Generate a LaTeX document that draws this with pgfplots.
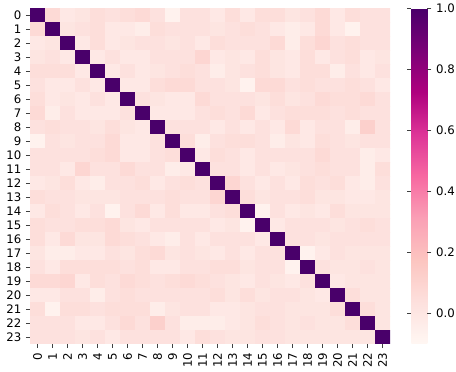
\documentclass[border=0pt]{standalone}
\usepackage{pgfplots}
\pgfplotsset{compat=1.18}
\usepackage{fontspec}
\setmainfont{DejaVu Sans}
\begin{document}
\begin{tikzpicture}
\begin{axis}[
  scale only axis, width=270pt, height=252pt,
  xmin=-0.5, xmax=23.5, ymin=-0.5, ymax=23.5,
  y dir=reverse,
  enlargelimits=false,
  axis line style={draw=none},
  tick pos=left, tick align=outside, major tick length=3pt,
  tick style={color=black!75, line width=0.6pt},
  xtick={0,1,...,23}, ytick={0,1,...,23},
  xticklabels={0,1,2,3,4,5,6,7,8,9,10,11,12,13,14,15,16,17,18,19,20,21,22,23},
  yticklabels={0,1,2,3,4,5,6,7,8,9,10,11,12,13,14,15,16,17,18,19,20,21,22,23},
  xticklabel style={rotate=90, anchor=east},
  font=\fontsize{8.8}{10.5}\selectfont,
  colormap={rdpu}{rgb255=(255,247,243) rgb255=(253,224,221) rgb255=(252,197,192) rgb255=(250,159,181) rgb255=(247,104,161) rgb255=(221,52,151) rgb255=(174,1,126) rgb255=(122,1,119) rgb255=(73,0,106)},
  point meta min=-0.1, point meta max=1,
  colorbar,
  colorbar style={
    width=12pt,
    at={(parent axis.north east)}, anchor=north west, xshift=7.5pt,
    y dir=normal,
    ytick={0,0.2,0.4,0.6,0.8,1},
    yticklabels={0.0,0.2,0.4,0.6,0.8,1.0},
    axis line style={draw=none},
    tick align=outside, major tick length=3pt,
    tick style={color=black!75, line width=0.6pt},
    font=\fontsize{8.8}{10.5}\selectfont,
  },
]
\addplot[matrix plot*, mesh/cols=24, point meta=explicit]
  table[row sep=\\, x expr={mod(\coordindex,24)}, y expr={floor((\coordindex+0.5)/24)}, meta index=0] {
1\\ 0.07\\ -0.01\\ 0.01\\ 0.05\\ 0.03\\ 0.05\\ 0.07\\ 0.03\\ -0.07\\ 0.03\\ 0.03\\ -0.01\\ 0.05\\ -0.01\\ 0.05\\ 0.05\\ 0.01\\ 0.03\\ 0.07\\ -0.01\\ 0.05\\ 0.03\\ 0.03\\
0.07\\ 1\\ 0.01\\ 0.03\\ 0.05\\ -0.01\\ -0.01\\ -0.04\\ 0.05\\ 0.03\\ 0.03\\ 0.03\\ 0.01\\ 0.03\\ 0.05\\ 0.03\\ -0.01\\ -0.04\\ -0.01\\ 0.07\\ -0.01\\ -0.07\\ 0.03\\ 0.03\\
-0.01\\ 0.01\\ 1\\ -0.01\\ 0.05\\ -0.01\\ 0.01\\ 0.03\\ 0.03\\ 0.01\\ 0.03\\ -0.01\\ 0.05\\ 0.03\\ 0.03\\ 0.03\\ 0.07\\ -0.04\\ 0.05\\ 0.09\\ 0.03\\ 0.05\\ 0.03\\ 0.03\\
0.01\\ 0.03\\ -0.01\\ 1\\ -0.01\\ 0.03\\ -0.01\\ -0.01\\ 0.03\\ 0.03\\ 0.03\\ 0.09\\ -0.01\\ 0.01\\ -0.01\\ 0.05\\ 0.01\\ -0.01\\ 0.05\\ -0.01\\ 0.03\\ 0.05\\ -0.01\\ 0.01\\
0.05\\ 0.05\\ 0.05\\ -0.01\\ 1\\ -0.01\\ 0.03\\ -0.01\\ 0.01\\ 0.03\\ 0.05\\ 0.03\\ -0.04\\ 0.01\\ 0.03\\ 0.05\\ 0.01\\ -0.01\\ 0.05\\ 0.05\\ -0.04\\ 0.03\\ -0.01\\ 0.03\\
0.03\\ -0.01\\ -0.01\\ 0.03\\ -0.01\\ 1\\ -0.01\\ -0.01\\ 0.05\\ 0.07\\ 0.07\\ 0.03\\ 0.03\\ 0.01\\ -0.07\\ 0.07\\ 0.07\\ 0.03\\ 0.05\\ 0.03\\ 0.03\\ 0.05\\ 0.03\\ -0.01\\
0.05\\ -0.01\\ 0.01\\ -0.01\\ 0.03\\ -0.01\\ 1\\ 0.03\\ 0.01\\ -0.01\\ -0.01\\ 0.07\\ 0.03\\ 0.03\\ 0.03\\ 0.01\\ 0.05\\ 0.01\\ 0.03\\ 0.07\\ 0.05\\ 0.05\\ 0.07\\ 0.03\\
0.07\\ -0.04\\ 0.03\\ -0.01\\ -0.01\\ -0.01\\ 0.03\\ 1\\ -0.01\\ -0.01\\ -0.01\\ 0.03\\ 0.05\\ 0.03\\ 0.07\\ -0.01\\ 0.03\\ 0.05\\ 0.05\\ 0.05\\ 0.03\\ 0.05\\ 0.03\\ 0.03\\
0.03\\ 0.05\\ 0.03\\ 0.03\\ 0.01\\ 0.05\\ 0.01\\ -0.01\\ 1\\ 0.03\\ 0.03\\ 0.03\\ -0.01\\ 0.03\\ -0.01\\ 0.03\\ -0.01\\ 0.07\\ -0.01\\ 0.03\\ 0.03\\ -0.04\\ 0.12\\ 0.03\\
-0.07\\ 0.03\\ 0.01\\ 0.03\\ 0.03\\ 0.07\\ -0.01\\ -0.01\\ 0.03\\ 1\\ 0.05\\ -0.04\\ 0.03\\ 0.05\\ 0.05\\ 0.03\\ -0.04\\ 0.01\\ -0.01\\ 0.05\\ 0.03\\ 0.01\\ 0.03\\ 0.03\\
0.03\\ 0.03\\ 0.03\\ 0.03\\ 0.05\\ 0.07\\ -0.01\\ -0.01\\ 0.03\\ 0.05\\ 1\\ -0.01\\ 0.05\\ 0.03\\ -0.01\\ 0.03\\ 0.03\\ 0.03\\ 0.03\\ 0.07\\ 0.03\\ 0.03\\ -0.04\\ -0.01\\
0.03\\ 0.03\\ -0.01\\ 0.09\\ 0.03\\ 0.03\\ 0.07\\ 0.03\\ 0.03\\ -0.04\\ -0.01\\ 1\\ 0.03\\ 0.03\\ -0.01\\ 0.03\\ -0.01\\ 0.01\\ 0.03\\ 0.05\\ 0.03\\ 0.03\\ -0.04\\ 0.05\\
-0.01\\ 0.01\\ 0.05\\ -0.01\\ -0.04\\ 0.03\\ 0.03\\ 0.05\\ -0.01\\ 0.03\\ 0.05\\ 0.03\\ 1\\ 0.09\\ 0.03\\ -0.01\\ 0.03\\ -0.01\\ 0.05\\ 0.03\\ 0.05\\ -0.01\\ -0.04\\ 0.03\\
0.05\\ 0.03\\ 0.03\\ 0.01\\ 0.01\\ 0.01\\ 0.03\\ 0.03\\ 0.03\\ 0.05\\ 0.03\\ 0.03\\ 0.09\\ 1\\ 0.05\\ 0.01\\ 0.03\\ 0.03\\ 0.05\\ 0.01\\ 0.01\\ -0.01\\ -0.01\\ 0.01\\
-0.01\\ 0.05\\ 0.03\\ -0.01\\ 0.03\\ -0.07\\ 0.03\\ 0.07\\ -0.01\\ 0.05\\ -0.01\\ -0.01\\ 0.03\\ 0.05\\ 1\\ -0.07\\ 0.03\\ -0.01\\ 0.01\\ -0.01\\ 0.05\\ 0.01\\ 0.01\\ 0.01\\
0.05\\ 0.03\\ 0.03\\ 0.05\\ 0.05\\ 0.07\\ 0.01\\ -0.01\\ 0.03\\ 0.03\\ 0.03\\ 0.03\\ -0.01\\ 0.01\\ -0.07\\ 1\\ -0.01\\ 0.03\\ 0.03\\ 0.03\\ 0.01\\ 0.03\\ 0.05\\ 0.03\\
0.05\\ -0.01\\ 0.07\\ 0.01\\ 0.01\\ 0.07\\ 0.05\\ 0.03\\ -0.01\\ -0.04\\ 0.03\\ -0.01\\ 0.03\\ 0.03\\ 0.03\\ -0.01\\ 1\\ 0.03\\ 0.03\\ 0.01\\ 0.03\\ 0.03\\ 0.03\\ 0.03\\
0.01\\ -0.04\\ -0.04\\ -0.01\\ -0.01\\ 0.03\\ 0.01\\ 0.05\\ 0.07\\ 0.01\\ 0.03\\ 0.01\\ -0.01\\ 0.03\\ -0.01\\ 0.03\\ 0.03\\ 1\\ -0.07\\ -0.01\\ 0.03\\ 0.01\\ 0.01\\ 0.01\\
0.03\\ -0.01\\ 0.05\\ 0.05\\ 0.05\\ 0.05\\ 0.03\\ 0.05\\ -0.01\\ -0.01\\ 0.03\\ 0.03\\ 0.05\\ 0.05\\ 0.01\\ 0.03\\ 0.03\\ -0.07\\ 1\\ 0.03\\ 0.01\\ 0.01\\ 0.03\\ 0.01\\
0.07\\ 0.07\\ 0.09\\ -0.01\\ 0.05\\ 0.03\\ 0.07\\ 0.05\\ 0.03\\ 0.05\\ 0.07\\ 0.05\\ 0.03\\ 0.01\\ -0.01\\ 0.03\\ 0.01\\ -0.01\\ 0.03\\ 1\\ -0.01\\ 0.01\\ 0.01\\ 0.01\\
-0.01\\ -0.01\\ 0.03\\ 0.03\\ -0.04\\ 0.03\\ 0.05\\ 0.03\\ 0.03\\ 0.03\\ 0.03\\ 0.03\\ 0.05\\ 0.01\\ 0.05\\ 0.01\\ 0.03\\ 0.03\\ 0.01\\ -0.01\\ 1\\ 0.05\\ 0.01\\ 0.01\\
0.05\\ -0.07\\ 0.05\\ 0.05\\ 0.03\\ 0.05\\ 0.05\\ 0.05\\ -0.04\\ 0.01\\ 0.03\\ 0.03\\ -0.01\\ -0.01\\ 0.01\\ 0.03\\ 0.03\\ 0.01\\ 0.01\\ 0.01\\ 0.05\\ 1\\ 0.05\\ 0.01\\
0.03\\ 0.03\\ 0.03\\ -0.01\\ -0.01\\ 0.03\\ 0.07\\ 0.03\\ 0.12\\ 0.03\\ -0.04\\ -0.04\\ -0.04\\ -0.01\\ 0.01\\ 0.05\\ 0.03\\ 0.01\\ 0.03\\ 0.01\\ 0.01\\ 0.05\\ 1\\ 0.01\\
0.03\\ 0.03\\ 0.03\\ 0.01\\ 0.03\\ -0.01\\ 0.03\\ 0.03\\ 0.03\\ 0.03\\ -0.01\\ 0.05\\ 0.03\\ 0.01\\ 0.01\\ 0.03\\ 0.03\\ 0.01\\ 0.01\\ 0.01\\ 0.01\\ 0.01\\ 0.01\\ 1\\
};
\end{axis}
\pgfresetboundingbox
\path ([xshift=-22.5pt, yshift=6pt]current axis.north west) rectangle ([xshift=49.5pt, yshift=-21pt]current axis.south east);
\end{tikzpicture}
\end{document}
